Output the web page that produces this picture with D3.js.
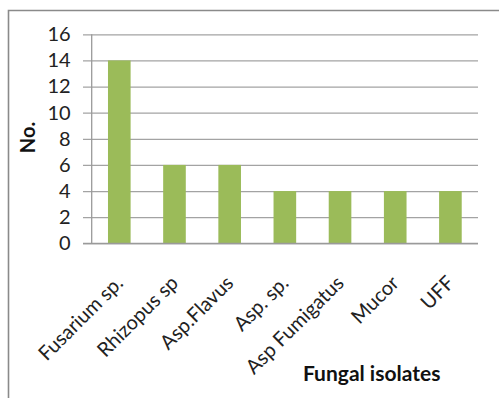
<!DOCTYPE html>
<html><head><meta charset="utf-8">
<script src="https://cdn.jsdelivr.net/npm/d3@7"></script>
<style>
html,body{margin:0;padding:0;background:#fff;}
svg{display:block;}
</style>
</head><body>
<svg id="chart" width="499" height="398"></svg>
<script>
const categories = ["Fusarium sp.", "Rhizopus sp", "Asp.Flavus", "Asp. sp.", "Asp Fumigatus", "Mucor", "UFF"];
const values = [14, 6, 6, 4, 4, 4, 4];
const yTicks = [0, 2, 4, 6, 8, 10, 12, 14, 16];
const yTitle = "No.";
const xTitle = "Fungal isolates";

const svg = d3.select("#chart");
const pLeft = 91.7, pRight = 478, pTop = 34.3, pBottom = 243.3;
const font = "Lato, 'Open Sans', sans-serif";

// frame
svg.append("path").attr("d", "M8.5,398 L8.5,10.5 L499,10.5")
  .attr("fill", "none").attr("stroke", "#8a8a8a").attr("stroke-width", 1.6);

const y = d3.scaleLinear().domain([0, 16]).range([pBottom, pTop]);
const x = d3.scaleBand().domain(categories).range([pLeft, pRight]).paddingInner(0.59).paddingOuter(0.295);

// gridlines + y tick labels
const yAxis = d3.axisLeft(y).tickValues(yTicks).tickSize(-(pRight - pLeft)).tickPadding(21).tickFormat(d3.format("d"));
const gy = svg.append("g").attr("transform", `translate(${pLeft},0)`).call(yAxis);
gy.select(".domain").remove();
gy.selectAll(".tick line").attr("x1", -8.7).attr("stroke", "#a3a3a3").attr("stroke-width", 1.3);
gy.selectAll(".tick text").attr("font-family", font).attr("font-size", 20).attr("fill", "#222");

// y axis line
svg.append("line").attr("x1", pLeft).attr("x2", pLeft).attr("y1", pTop).attr("y2", pBottom)
  .attr("stroke", "#9a9a9a").attr("stroke-width", 1.3);

// bars
svg.append("g").selectAll("rect").data(values).join("rect")
  .attr("x", (d, i) => x(categories[i]))
  .attr("y", d => y(d))
  .attr("width", x.bandwidth())
  .attr("height", d => y(0) - y(d))
  .attr("fill", "#9bbb59");

// x axis line
svg.append("line").attr("x1", pLeft - 8.7).attr("x2", pRight).attr("y1", pBottom).attr("y2", pBottom)
  .attr("stroke", "#9a9a9a").attr("stroke-width", 1.3);

// x labels
svg.append("g").selectAll("text").data(categories).join("text")
  .attr("transform", d => `translate(${x(d) + x.bandwidth() / 2 + 5},${pBottom + 41}) rotate(-45)`)
  .attr("text-anchor", "end")
  .attr("font-family", font).attr("font-size", 20).attr("fill", "#222")
  .text(d => d);

// titles
svg.append("text").attr("transform", "translate(35,137.5) rotate(-90)")
  .attr("text-anchor", "middle")
  .attr("font-family", font).attr("font-size", 20).attr("font-weight", "bold").attr("fill", "#111")
  .text(yTitle);
svg.append("text").attr("x", 371.7).attr("y", 381)
  .attr("text-anchor", "middle")
  .attr("font-family", font).attr("font-size", 21).attr("font-weight", "bold").attr("fill", "#111")
  .text(xTitle);
</script>
</body></html>
